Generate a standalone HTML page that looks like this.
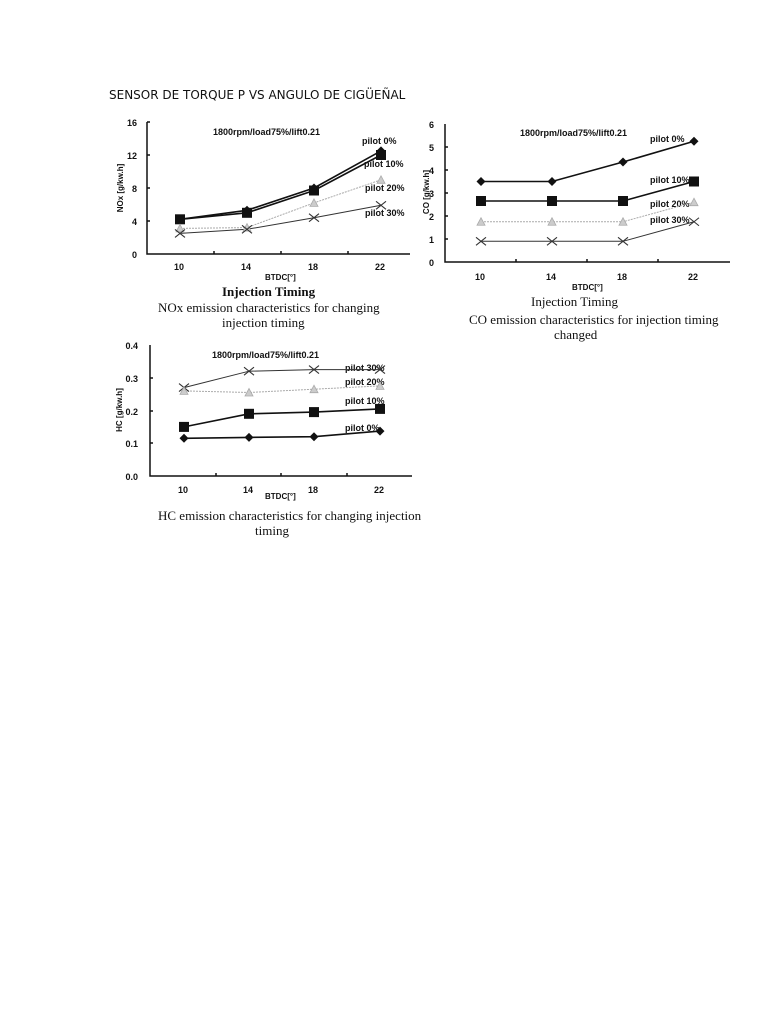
<!DOCTYPE html>
<html><head><meta charset="utf-8"><style>
body{margin:0;background:#fff;}
svg{display:block}
.t{font-family:"Liberation Sans",sans-serif;font-size:9px;font-weight:bold;fill:#111}
.r{text-anchor:end}
.y{font-size:8px;text-anchor:middle}
.s{font-family:"Liberation Serif",serif;font-size:13px;fill:#111}
</style></head><body>
<svg width="768" height="1024" viewBox="0 0 768 1024" xmlns="http://www.w3.org/2000/svg">
<defs>
<path id="dia" d="M0,-4.5 L4.5,0 L0,4.5 L-4.5,0Z" fill="#111"/>
<rect id="sq" x="-5" y="-5" width="10" height="10" fill="#111"/>
<path id="tri" d="M0,-4 L4,3.5 L-4,3.5Z" fill="#ccc" stroke="#aaa" stroke-width="0.8"/>
<path id="x" d="M-5,-4 L5,4 M-5,4 L5,-4" stroke="#333" stroke-width="1.1" fill="none"/>
</defs>
<text x="109" y="99" style="font-family:'DejaVu Sans','Liberation Sans',sans-serif;font-size:12px;fill:#111">SENSOR DE TORQUE P VS ANGULO DE CIGÜEÑAL</text>

<!-- Chart 1 -->
<g stroke="#111" stroke-width="1.5" fill="none">
<path d="M147,122 V254 H410"/>
<path d="M147,155 h3 M147,188 h3 M147,221 h3 M147,122 h3 M214,254 v-3 M281,254 v-3 M348,254 v-3"/>
</g>
<g class="t">
<text class="r" x="137" y="126">16</text><text class="r" x="137" y="159">12</text><text class="r" x="137" y="192">8</text><text class="r" x="137" y="225">4</text><text class="r" x="137" y="258">0</text>
<text x="174" y="270">10</text><text x="241" y="270">14</text><text x="308" y="270">18</text><text x="375" y="270">22</text>
<text x="265" y="280" style="font-size:8px">BTDC[°]</text>
<text x="213" y="135">1800rpm/load75%/lift0.21</text>
<text x="362" y="144">pilot  0%</text><text x="364" y="167">pilot 10%</text><text x="365" y="191">pilot 20%</text><text x="365" y="216">pilot 30%</text>
<text class="y" transform="translate(123,188) rotate(-90)">NOx [g/kw.h]</text>
</g>
<polyline points="180,219.3 247,210.3 314,188 381,150.9" fill="none" stroke="#111" stroke-width="1.6"/>
<polyline points="180,219.3 247,212.8 314,190.5 381,155" fill="none" stroke="#111" stroke-width="1.6"/>
<polyline points="180,228.4 247,227.6 314,202.9 381,179.8" fill="none" stroke="#aaa" stroke-width="1" stroke-dasharray="2,1"/>
<polyline points="180,233.4 247,229.3 314,217.7 381,205.3" fill="none" stroke="#333" stroke-width="1"/>
<use href="#dia" x="180" y="219.3"/><use href="#dia" x="247" y="210.3"/><use href="#dia" x="314" y="188"/><use href="#dia" x="381" y="150.9"/>
<use href="#sq" x="180" y="219.3"/><use href="#sq" x="247" y="212.8"/><use href="#sq" x="314" y="190.5"/><use href="#sq" x="381" y="155"/>
<use href="#tri" x="180" y="228.4"/><use href="#tri" x="247" y="227.6"/><use href="#tri" x="314" y="202.9"/><use href="#tri" x="381" y="179.8"/>
<use href="#x" x="180" y="233.4"/><use href="#x" x="247" y="229.3"/><use href="#x" x="314" y="217.7"/><use href="#x" x="381" y="205.3"/>
<g class="s">
<text x="222" y="296" style="font-weight:bold">Injection Timing</text>
<text x="158" y="312">NOx emission characteristics for changing</text>
<text x="222" y="327">injection timing</text>
</g>

<!-- Chart 2 -->
<g stroke="#111" stroke-width="1.5" fill="none">
<path d="M445,124 V262 H730"/>
<path d="M445,147 h3 M445,170 h3 M445,193 h3 M445,216 h3 M445,239 h3 M516,262 v-3 M587,262 v-3 M658,262 v-3"/>
</g>
<g class="t">
<text class="r" x="434" y="128">6</text><text class="r" x="434" y="151">5</text><text class="r" x="434" y="174">4</text><text class="r" x="434" y="197">3</text><text class="r" x="434" y="220">2</text><text class="r" x="434" y="243">1</text><text class="r" x="434" y="266">0</text>
<text x="475" y="280">10</text><text x="546" y="280">14</text><text x="617" y="280">18</text><text x="688" y="280">22</text>
<text x="572" y="290" style="font-size:8px">BTDC[°]</text>
<text x="520" y="136">1800rpm/load75%/lift0.21</text>
<text x="650" y="142">pilot  0%</text><text x="650" y="183">pilot 10%</text><text x="650" y="207">pilot 20%</text><text x="650" y="223">pilot 30%</text>
<text class="y" transform="translate(429,192) rotate(-90)">CO [g/kw.h]</text>
</g>
<polyline points="481,181.5 552,181.5 623,162 694,141.25" fill="none" stroke="#111" stroke-width="1.6"/>
<polyline points="481,201 552,201 623,201 694,181.5" fill="none" stroke="#111" stroke-width="1.6"/>
<polyline points="481,221.75 552,221.75 623,221.75 694,202.2" fill="none" stroke="#aaa" stroke-width="1" stroke-dasharray="2,1"/>
<polyline points="481,241.3 552,241.3 623,241.3 694,221.75" fill="none" stroke="#333" stroke-width="1"/>
<use href="#dia" x="481" y="181.5"/><use href="#dia" x="552" y="181.5"/><use href="#dia" x="623" y="162"/><use href="#dia" x="694" y="141.25"/>
<use href="#sq" x="481" y="201"/><use href="#sq" x="552" y="201"/><use href="#sq" x="623" y="201"/><use href="#sq" x="694" y="181.5"/>
<use href="#tri" x="481" y="221.75"/><use href="#tri" x="552" y="221.75"/><use href="#tri" x="623" y="221.75"/><use href="#tri" x="694" y="202.2"/>
<use href="#x" x="481" y="241.3"/><use href="#x" x="552" y="241.3"/><use href="#x" x="623" y="241.3"/><use href="#x" x="694" y="221.75"/>
<g class="s">
<text x="531" y="306">Injection Timing</text>
<text x="469" y="324">CO emission characteristics for injection timing</text>
<text x="554" y="339">changed</text>
</g>

<!-- Chart 3 -->
<g stroke="#111" stroke-width="1.5" fill="none">
<path d="M150,345 V476 H412"/>
<path d="M150,378 h3 M150,411 h3 M150,443 h3 M216,476 v-3 M281,476 v-3 M347,476 v-3"/>
</g>
<g class="t">
<text class="r" x="138" y="349">0.4</text><text class="r" x="138" y="382">0.3</text><text class="r" x="138" y="415">0.2</text><text class="r" x="138" y="447">0.1</text><text class="r" x="138" y="480">0.0</text>
<text x="178" y="493">10</text><text x="243" y="493">14</text><text x="308" y="493">18</text><text x="374" y="493">22</text>
<text x="265" y="499" style="font-size:8px">BTDC[°]</text>
<text x="212" y="358">1800rpm/load75%/lift0.21</text>
<text x="345" y="371">pilot 30%</text><text x="345" y="385">pilot 20%</text><text x="345" y="404">pilot 10%</text><text x="345" y="431">pilot  0%</text>
<text class="y" transform="translate(122,410) rotate(-90)">HC [g/kw.h]</text>
</g>
<polyline points="184,387.6 249,371.2 314,369.6 380,369.6" fill="none" stroke="#333" stroke-width="1"/>
<polyline points="184,390.9 249,392.5 314,389.2 380,385.9" fill="none" stroke="#aaa" stroke-width="1" stroke-dasharray="2,1"/>
<polyline points="184,426.9 249,413.8 314,412.1 380,408.9" fill="none" stroke="#111" stroke-width="1.6"/>
<polyline points="184,438.3 249,437.4 314,436.7 380,431.1" fill="none" stroke="#111" stroke-width="1.6"/>
<use href="#x" x="184" y="387.6"/><use href="#x" x="249" y="371.2"/><use href="#x" x="314" y="369.6"/><use href="#x" x="380" y="369.6"/>
<use href="#tri" x="184" y="390.9"/><use href="#tri" x="249" y="392.5"/><use href="#tri" x="314" y="389.2"/><use href="#tri" x="380" y="385.9"/>
<use href="#sq" x="184" y="426.9"/><use href="#sq" x="249" y="413.8"/><use href="#sq" x="314" y="412.1"/><use href="#sq" x="380" y="408.9"/>
<use href="#dia" x="184" y="438.3"/><use href="#dia" x="249" y="437.4"/><use href="#dia" x="314" y="436.7"/><use href="#dia" x="380" y="431.1"/>
<g class="s">
<text x="158" y="520">HC emission characteristics for changing injection</text>
<text x="255" y="535">timing</text>
</g>
</svg>
</body></html>
